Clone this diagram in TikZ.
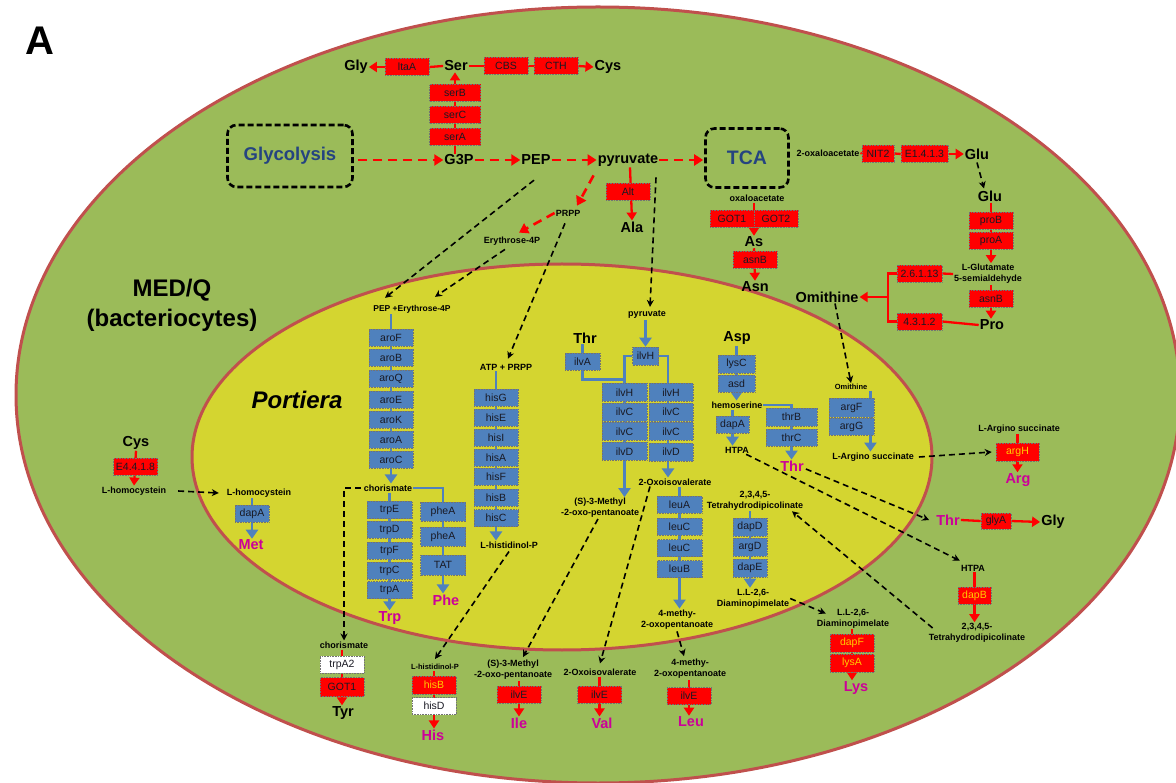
\documentclass[tikz,border=0pt]{standalone}
\usepackage{fontspec}
\setmainfont{Liberation Sans}
\usetikzlibrary{arrows.meta}
\pgfdeclarelayer{bg}
\pgfdeclarelayer{conn}
\pgfsetlayers{bg,conn,main}
\definecolor{medgreen}{RGB}{155,187,89}
\definecolor{portyellow}{RGB}{212,213,48}
\definecolor{rim}{RGB}{192,80,77}
\definecolor{boxblue}{RGB}{79,129,189}
\definecolor{aamag}{RGB}{204,0,153}
\definecolor{gtitle}{RGB}{37,68,128}
\definecolor{ylab}{RGB}{255,204,0}
\definecolor{boxtext}{RGB}{25,25,35}
\tikzset{
  big/.style={font=\bfseries\fontsize{14.5}{16}\selectfont, inner sep=1pt},
  sm/.style={font=\bfseries\fontsize{9}{11}\selectfont, inner sep=1pt, align=center},
  smsev/.style={font=\bfseries\fontsize{7.5}{9}\selectfont, inner sep=1pt, align=center},
  aa/.style={big, text=aamag},
  rbox/.style={rectangle, fill=red, draw=black!55, densely dotted, line width=0.6pt,
    minimum width=44pt, minimum height=17pt, inner sep=0pt,
    font=\fontsize{10.5}{12}\selectfont, text=boxtext},
  bbox/.style={rbox, fill=boxblue},
  wbox/.style={rbox, fill=white},
  ylw/.style={text=ylab},
  dashbox/.style={draw=black, line width=2.6pt, dash pattern=on 6pt off 3pt, rounded corners=9pt,
    text=gtitle, inner sep=0pt},
  rline/.style={draw=red, line width=2.3pt},
  rarr/.style={rline, -{Triangle[width=10pt,length=8pt]}},
  rdash/.style={draw=red, line width=2.6pt, dash pattern=on 9pt off 6pt, -{Triangle[width=11pt,length=9pt]}},
  bline/.style={draw=boxblue, line width=2.8pt},
  barr/.style={bline, -{Triangle[width=12pt,length=9pt]}},
  karr/.style={draw=black, line width=1.6pt, dash pattern=on 6pt off 4pt, -{Stealth[width=7pt,length=7pt]}}
}
\begin{document}
\begin{tikzpicture}[x=1pt,y=-1pt]
\useasboundingbox (0,0) rectangle (1176,783);
\begin{pgfonlayer}{bg}
\fill[white] (0,0) rectangle (1176,783);
\filldraw[fill=medgreen, draw=rim, line width=3pt] (598,395) ellipse [x radius=582pt, y radius=388pt];
\filldraw[fill=portyellow, draw=rim, line width=3pt] (562,457) ellipse [x radius=370pt, y radius=193pt];
\end{pgfonlayer}

% ---------- labels
\node[font=\bfseries\fontsize{40}{40}\selectfont, inner sep=0pt] (lblA) at (40,41) {A};
\node[font=\bfseries\fontsize{24}{30}\selectfont, align=center] (medq) at (172,305) {MED/Q\\(bacteriocytes)};
\node[font=\bfseries\itshape\fontsize{24}{28}\selectfont] (portiera) at (297,400) {Portiera};

% ---------- top: Ser / Gly / Cys
\node[big] (gly1) at (356,67) {Gly};
\node[rbox] (ltaA) at (407,67) {ltaA};
\node[big] (ser) at (456,66) {Ser};
\node[rbox] (cbs) at (506,66) {CBS};
\node[rbox] (cth) at (556,66) {CTH};
\node[big] (cys1) at (608,67) {Cys};
\node[rbox, minimum width=51pt] (serB) at (455,93) {serB};
\node[rbox, minimum width=51pt] (serC) at (455,115) {serC};
\node[rbox, minimum width=51pt] (serA) at (455,137) {serA};

% ---------- glycolysis row
\node[dashbox, minimum width=125pt, minimum height=62pt, font=\bfseries\fontsize{18.5}{20}\selectfont] (glyco) at (290,156) {Glycolysis};
\node[big] (g3p) at (459,160) {G3P};
\node[big] (pep) at (536,160) {PEP};
\node[big] (pyr) at (628,160) {pyruvate};
\node[dashbox, minimum width=83pt, minimum height=59pt, font=\bfseries\fontsize{19.5}{20}\selectfont] (tca) at (747,158) {TCA};
\node[sm] (prpp1) at (568,213) {PRPP};
\node[sm] (e4p1) at (512,241) {Erythrose-4P};
\node[rbox] (alt) at (628,192) {Alt};
\node[big] (ala) at (632,227) {Ala};

% ---------- TCA right side
\node[sm] (oxa2) at (828,153) {2-oxaloacetate};
\node[rbox, minimum width=32pt] (nit2) at (878,153.5) {NIT2};
\node[rbox, minimum width=47pt] (e1413) at (924.5,154) {E1.4.1.3};
\node[big] (glu1) at (977,154) {Glu};
\node[big] (glu2) at (990,196) {Glu};
\node[rbox] (proB) at (991,220.5) {proB};
\node[rbox] (proA) at (991,241) {proA};
\node[sm] (lglu) at (988,274) {L-Glutamate\\5-semialdehyde};
\node[rbox] (asnB2) at (991,298.5) {asnB};
\node[big] (pro) at (992,325) {Pro};
\node[rbox, minimum width=45pt] (e26) at (919.5,273.5) {2.6.1.13};
\node[rbox, minimum width=45pt] (e43) at (919.5,321.5) {4.3.1.2};
\node[big] (omi1) at (827,297) {Omithine};
\coordinate (ojoin) at (888,273.5);

% ---------- oxaloacetate / As / Asn
\node[sm] (oxa1) at (757,198) {oxaloacetate};
\node[rbox] (got1a) at (732,218.5) {GOT1};
\node[rbox] (got2) at (776,218.5) {GOT2};
\node[big] (as) at (754,242) {As};
\node[rbox] (asnB1) at (755,260) {asnB};
\node[big] (asn) at (755,287) {Asn};

% ---------- Cys / homocystein / Met
\node[big] (cys2) at (136,443) {Cys};
\node[rbox] (e4418) at (135.5,467) {E4.4.1.8};
\node[sm] (lhc1) at (134,491) {L-homocystein};
\node[sm] (lhc2) at (259,493) {L-homocystein};
\node[bbox, minimum width=34pt] (dapA1) at (252,513.5) {dapA};
\node[aa] (met) at (251,545) {Met};

% ---------- aromatic chain
\node[sm, font=\bfseries\fontsize{8.5}{10}\selectfont] (pepe4p) at (412,309) {PEP +Erythrose-4P};
\node[bbox] (aroF) at (391,337.5) {aroF};
\node[bbox] (aroB) at (391,357.5) {aroB};
\node[bbox] (aroQ) at (391,379) {aroQ};
\node[bbox] (aroE) at (391,399.5) {aroE};
\node[bbox] (aroK) at (391,419.5) {aroK};
\node[bbox] (aroA) at (391,439.5) {aroA};
\node[bbox] (aroC) at (391,460) {aroC};
\node[sm] (chor1) at (388,488) {chorismate};
\node[bbox, minimum width=45pt] (trpE) at (389.5,510) {trpE};
\node[bbox, minimum width=45pt] (trpD) at (389.5,529.5) {trpD};
\node[bbox, minimum width=45pt] (trpF) at (389.5,550.5) {trpF};
\node[bbox, minimum width=45pt] (trpC) at (389.5,570.5) {trpC};
\node[bbox, minimum width=45pt] (trpA) at (389.5,590) {trpA};
\node[aa] (trp) at (390,618) {Trp};
\node[bbox, minimum width=45pt, minimum height=19pt] (pheA1) at (443,511.5) {pheA};
\node[bbox, minimum width=45pt, minimum height=19pt] (pheA2) at (443,536.5) {pheA};
\node[bbox, minimum width=45pt, minimum height=20pt] (tat) at (443,565) {TAT};
\node[aa] (phe) at (446,600) {Phe};

% ---------- Tyr
\node[sm] (chor2) at (344,645) {chorismate};
\node[wbox] (trpA2) at (342,664.5) {trpA2};
\node[rbox, minimum height=19pt] (got1b) at (342,687) {GOT1};
\node[big] (tyr) at (343,713) {Tyr};

% ---------- histidine chain
\node[sm] (atpprpp) at (506,367) {ATP + PRPP};
\node[bbox] (hisG) at (496,397.5) {hisG};
\node[bbox] (hisE) at (496,418) {hisE};
\node[bbox] (hisI) at (496,438) {hisI};
\node[bbox] (hisA) at (496,457.5) {hisA};
\node[bbox] (hisF) at (496,476.5) {hisF};
\node[bbox] (hisB) at (496,497.5) {hisB};
\node[bbox] (hisC) at (496,518) {hisC};
\node[sm] (lhis1) at (509,545) {L-histidinol-P};
\node[smsev] (lhis2) at (435,667) {L-histidinol-P};
\node[rbox, minimum height=18pt, ylw] (hisB2) at (434,685) {hisB};
\node[wbox] (hisD) at (434,706) {hisD};
\node[aa] (his) at (433,735) {His};

% ---------- branched chain
\node[sm] (pyr2) at (647,315) {pyruvate};
\node[big] (thr1) at (585,338) {Thr};
\node[bbox, minimum width=35pt] (ilvA) at (582.5,361.5) {ilvA};
\node[bbox, minimum width=26pt, minimum height=18pt] (ilvHt) at (645.5,356) {ilvH};
\node[bbox, minimum width=45pt, minimum height=18pt] (ilvHL) at (624.5,392.5) {ilvH};
\node[bbox, minimum width=45pt, minimum height=18pt] (ilvCL1) at (624.5,412) {ilvC};
\node[bbox, minimum width=45pt, minimum height=18pt] (ilvCL2) at (624.5,431.5) {ilvC};
\node[bbox, minimum width=45pt, minimum height=18pt] (ilvDL) at (624.5,451.5) {ilvD};
\node[bbox, minimum width=44pt, minimum height=18pt] (ilvHR) at (671,392.5) {ilvH};
\node[bbox, minimum width=44pt, minimum height=18pt] (ilvCR1) at (671,412) {ilvC};
\node[bbox, minimum width=44pt, minimum height=18pt] (ilvCR2) at (671,431.5) {ilvC};
\node[bbox, minimum width=44pt, minimum height=18pt] (ilvDR) at (671,452) {ilvD};
\node[sm] (smeth1) at (600,508) {(S)-3-Methyl\\-2-oxo-pentanoate};
\node[sm] (oxo1) at (675,482) {2-Oxoisovalerate};
\node[bbox, minimum width=45pt] (leuA) at (679.5,504.5) {leuA};
\node[bbox, minimum width=45pt] (leuC1) at (679.5,526.5) {leuC};
\node[bbox, minimum width=45pt] (leuC2) at (679.5,548) {leuC};
\node[bbox, minimum width=45pt] (leuB) at (679.5,569) {leuB};
\node[sm] (meth1) at (677,619.5) {4-methy-\\2-oxopentanoate};
\node[sm] (smeth2) at (513,670) {(S)-3-Methyl\\-2-oxo-pentanoate};
\node[rbox] (ilvE1) at (519,694.5) {ilvE};
\node[aa] (ile) at (519,723) {Ile};
\node[sm] (oxo2) at (600,672) {2-Oxoisovalerate};
\node[rbox] (ilvE2) at (599.5,694.5) {ilvE};
\node[aa] (val) at (602,723) {Val};
\node[sm] (meth2) at (690,669) {4-methy-\\2-oxopentanoate};
\node[rbox] (ilvE3) at (689,696) {ilvE};
\node[aa] (leu) at (691,722) {Leu};

% ---------- Asp / Thr / Lys
\node[big] (asp) at (737,338) {Asp};
\node[bbox, minimum width=37pt, minimum height=18pt] (lysC) at (736.5,364) {lysC};
\node[bbox, minimum width=37pt] (asd) at (736.5,383.5) {asd};
\node[sm] (hemo) at (737,405) {hemoserine};
\node[bbox, minimum width=33pt] (dapA2) at (732.5,424.5) {dapA};
\node[sm] (htpa1) at (737,450) {HTPA};
\node[bbox, minimum width=51pt, minimum height=18pt] (thrB) at (791.5,417) {thrB};
\node[bbox, minimum width=51pt] (thrC) at (791.5,437.5) {thrC};
\node[aa] (thr2) at (792,466) {Thr};
\node[aa] (thr3) at (948,520) {Thr};
\node[rbox, minimum width=30pt, minimum height=16pt] (glyA) at (996,521) {glyA};
\node[big] (gly2) at (1053,522) {Gly};
\node[sm] (htpa2) at (973,568) {HTPA};
\node[rbox, minimum width=33pt, ylw] (dapB) at (974.5,595.5) {dapB};
\node[sm] (thdp2) at (977,633) {2,3,4,5-\\Tetrahydrodipicolinate};
\node[sm] (thdp1) at (755,500.5) {2,3,4,5-\\Tetrahydrodipicolinate};
\node[bbox, minimum width=34pt, minimum height=18pt] (dapD) at (750,527) {dapD};
\node[bbox, minimum width=34pt, minimum height=18pt] (argD) at (750,547) {argD};
\node[bbox, minimum width=34pt, minimum height=18pt] (dapE) at (750,568) {dapE};
\node[sm] (dap1) at (753,598.5) {L.L-2,6-\\Diaminopimelate};
\node[sm] (dap2) at (853,618.5) {L.L-2,6-\\Diaminopimelate};
\node[rbox, minimum height=18pt, ylw] (dapF) at (852,643) {dapF};
\node[rbox, minimum height=18pt, ylw] (lysA) at (852,663) {lysA};
\node[aa] (lys) at (856,688) {Lys};

% ---------- Arg
\node[smsev] (omi2) at (851,387) {Omithine};
\node[bbox, minimum width=45pt, minimum height=19pt] (argF) at (851.5,407.5) {argF};
\node[bbox, minimum width=45pt] (argG) at (851.5,426.5) {argG};
\node[sm] (largo1) at (873,457) {L-Argino succinate};
\node[sm] (largo2) at (1019,429) {L-Argino succinate};
\node[rbox, minimum width=43pt, minimum height=18pt, ylw] (argH) at (1017.5,452) {argH};
\node[aa] (arg) at (1018,480) {Arg};

% =============== connectors
\begin{pgfonlayer}{conn}
% top
\draw[rline] (ser.west) -- (ltaA.east);
\draw[rarr] (ltaA.west) -- (gly1.east);
\draw[rline] (ser.east) -- (cbs.west);
\draw[rline] (cbs.east) -- (cth.west);
\draw[rarr] (cth.east) -- (cys1.west);
\draw[rarr] (g3p.north -| serA.center) -- (ser.south -| serA.center);
% glycolysis row
\draw[rdash] ([xshift=4pt]glyco.east |- g3p.west) -- (g3p.west);
\draw[rdash] (g3p.east) -- (pep.west);
\draw[rdash] (pep.east) -- (pyr.west);
\draw[rdash] (pyr.east) -- ([xshift=-1pt]tca.west |- pyr.east);
\draw[rdash] ([xshift=-3pt,yshift=-8pt]pyr.south west) -- ([xshift=9pt,yshift=3pt]prpp1.north);
\draw[rdash] (prpp1.west) -- ([xshift=7pt,yshift=3pt]e4p1.north);
\draw[rarr] ([xshift=2pt]pyr.south) -- (ala.north);
% black dashed from PEP, E4P, PRPP, pyruvate
\draw[karr] ([xshift=-2pt,yshift=-14pt]pep.south) -- ([xshift=-27pt,yshift=6pt]pepe4p.north);
\draw[karr] ([xshift=-7pt,yshift=-3pt]e4p1.south) -- ([xshift=23pt,yshift=7pt]pepe4p.north);
\draw[karr] ([xshift=-3pt,yshift=-6pt]prpp1.south) -- ([xshift=2pt,yshift=4pt]atpprpp.north);
\draw[karr] ([xshift=28pt,yshift=-10pt]pyr.south) -- ([xshift=3pt,yshift=3pt]pyr2.north);
% TCA right side
\draw[rline] (oxa2.east) -- (nit2.west);
\draw[rline] (nit2.east) -- (e1413.west);
\draw[rarr] (e1413.east) -- (glu1.west);
\draw[karr] ([yshift=-2pt]glu1.south) -- ([xshift=-6pt,yshift=1pt]glu2.north);
\draw[rarr] (glu2.south -| proB.center) -- (lglu.north -| proB.center);
\draw[rarr] (lglu.south -| asnB2.center) -- (pro.north -| asnB2.center);
\draw[rline] (lglu.west) -- (e26.east);
\draw[rline] (pro.west) -- (e43.east);
\draw[rline, line cap=rect] (e26.west) -- (ojoin) |- (e43.west);
\draw[rarr] (ojoin |- omi1.east) -- (omi1.east);
\draw[karr] ([xshift=8pt]omi1.south) -- (omi2.north);
% oxaloacetate
\draw[rarr] (oxa1.south -| as.north) -- (as.north);
\draw[rarr] (as.south) -- (asn.north);
% homocystein
\draw[rarr] (cys2.south) -- (lhc1.north);
\draw[karr] ([xshift=11pt]lhc1.east) -- ([xshift=-7pt]lhc2.west);
\draw[barr] (lhc2.south -| dapA1.center) -- (met.north -| dapA1.center);
% aromatic
\draw[barr] (pepe4p.south -| aroF.center) -- (chor1.north -| aroF.center);
\draw[karr] ([xshift=-2pt]chor1.west) -| (chor2.north);
\draw[bline] (chor1.east) -| (pheA1.north);
\draw[barr] (chor1.south -| trpE.center) -- (trp.north -| trpE.center);
\draw[barr] (pheA1.center) -- (phe.north -| pheA1.center);
\draw[rarr] (chor2.south -| trpA2.center) -- (tyr.north -| trpA2.center);
% histidine
\draw[barr] (atpprpp.south -| hisG.center) -- (lhis1.north -| hisG.center);
\draw[karr] ([yshift=-2pt]lhis1.south) -- ([yshift=4pt]lhis2.north);
\draw[rarr] (lhis2.south -| hisB2.center) -- (his.north -| hisB2.center);
% branched chain
\draw[barr] (pyr2.south -| ilvHt.center) -- (ilvHt.north);
\draw[bline] (thr1.south -| ilvA.center) -- (ilvA.north);
\draw[bline] (ilvHt.west) -| (ilvHL.north);
\draw[bline] (ilvA.south) |- ([yshift=4pt]ilvHL.north);
\draw[bline] (ilvHt.east) -| ([xshift=-3pt]ilvHR.north);
\draw[barr] (ilvHL.center) -- (smeth1.north -| ilvHL.center);
\draw[barr] ([xshift=-3pt]ilvHR.center) -- ([xshift=-3pt]oxo1.north -| ilvHR.center);
\draw[barr] (oxo1.south -| leuA.center) -- (meth1.north -| leuA.center);
\draw[karr] ([xshift=-2pt]smeth1.south) -- ([xshift=10pt,yshift=2pt]smeth2.north);
\draw[rarr] (smeth2.south -| ilvE1.center) -- (ile.north -| ilvE1.center);
\draw[karr] ([xshift=-25pt]oxo1.south) -- ([yshift=4pt]oxo2.north);
\draw[rarr] (oxo2.south -| ilvE2.center) -- (val.north -| ilvE2.center);
\draw[karr] ([yshift=-1pt]meth1.south) -- ([xshift=-6pt,yshift=2pt]meth2.north);
\draw[rarr] (meth2.south -| ilvE3.center) -- (leu.north -| ilvE3.center);
% Asp / Thr / Lys
\draw[barr] (asp.south -| lysC.center) -- (hemo.north -| lysC.center);
\draw[bline] (hemo.east) -| (thrB.north);
\draw[barr] (thrB.center) -- (thr2.north -| thrB.center);
\draw[barr] (hemo.south -| dapA2.center) -- (htpa1.north -| dapA2.center);
\draw[karr] ([xshift=1pt,yshift=-3pt]thr2.east) -- ([xshift=-6pt]thr3.west);
\draw[rline] (thr3.east) -- (glyA.west);
\draw[rarr] (glyA.east) -- (gly2.west);
\draw[karr] ([xshift=-4pt]htpa1.south east) -- ([yshift=3pt]htpa2.north west);
\draw[rarr] (htpa2.south -| dapB.center) -- (thdp2.north -| dapB.center);
\draw[karr] ([xshift=5pt,yshift=5pt]thdp2.west) -- ([xshift=37pt]thdp1.south);
\draw[barr] (thdp1.south -| dapD.center) -- (dap1.north -| dapD.center);
\draw[karr] (dap1.east) -- ([xshift=10pt,yshift=5pt]dap2.west);
\draw[rarr] (dap2.south -| dapF.center) -- (lys.north -| dapF.center);
% Arg
\draw[barr] ([xshift=2pt]omi2.south east) -- ([xshift=2pt]omi2.south east |- largo1.north);
\draw[karr] ([xshift=4pt]largo1.east) -- ([xshift=-4pt]argH.west);
\draw[rarr] (largo2.south -| argH.center) -- (arg.north -| argH.center);
\end{pgfonlayer}
\end{tikzpicture}
\end{document}
